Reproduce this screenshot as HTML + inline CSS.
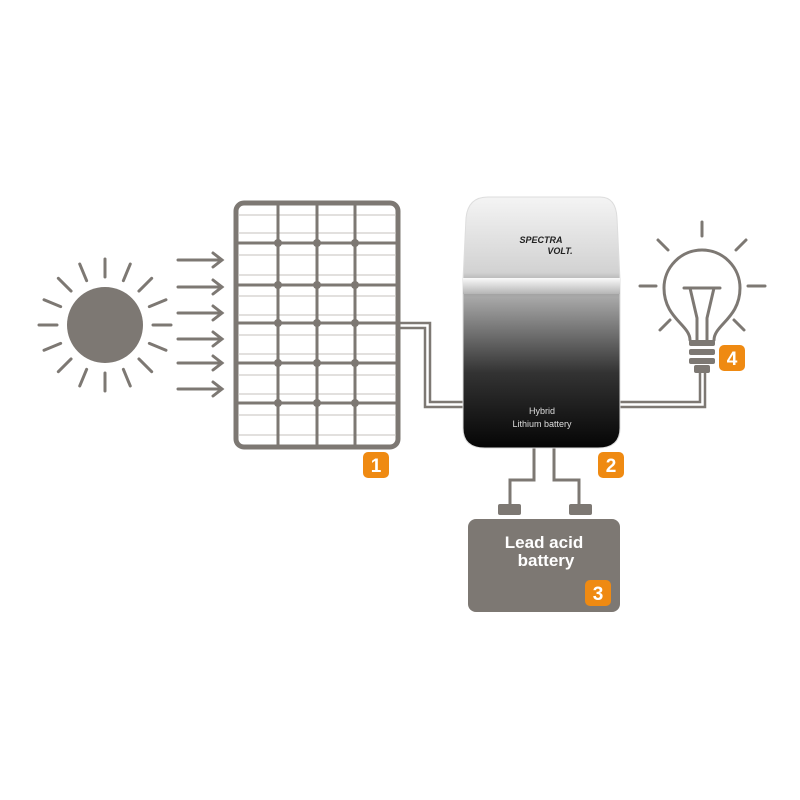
<!DOCTYPE html>
<html><head><style>
body{margin:0;background:#fff;}
svg{display:block}
</style></head><body>
<svg width="800" height="800" viewBox="0 0 800 800" xmlns="http://www.w3.org/2000/svg">
<defs>
<linearGradient id="bat" x1="0" y1="0" x2="0" y2="1">
<stop offset="0" stop-color="#f4f4f4"/>
<stop offset="0.3" stop-color="#d2d2d2"/>
<stop offset="0.36" stop-color="#9a9a9a"/>
<stop offset="0.4" stop-color="#a8a8a8"/>
<stop offset="0.7" stop-color="#333"/>
<stop offset="1" stop-color="#050505"/>
</linearGradient>
<linearGradient id="band" x1="0" y1="0" x2="0" y2="1">
<stop offset="0" stop-color="#fafafa"/><stop offset="1" stop-color="#b5b5b5"/>
</linearGradient>
</defs>
<g stroke="#7d7873" stroke-width="3" stroke-linecap="round" fill="none">
<g transform="translate(105,325)">
<line x1="48" y1="0" x2="66" y2="0"/><line x1="-48" y1="0" x2="-66" y2="0"/>
<line y1="48" x1="0" y2="66" x2="0"/><line y1="-48" x1="0" y2="-66" x2="0"/>
<g transform="rotate(22.5)"><line x1="48" y1="0" x2="66" y2="0"/><line x1="-48" y1="0" x2="-66" y2="0"/><line y1="48" x1="0" y2="66" x2="0"/><line y1="-48" x1="0" y2="-66" x2="0"/></g>
<g transform="rotate(45)"><line x1="48" y1="0" x2="66" y2="0"/><line x1="-48" y1="0" x2="-66" y2="0"/><line y1="48" x1="0" y2="66" x2="0"/><line y1="-48" x1="0" y2="-66" x2="0"/></g>
<g transform="rotate(67.5)"><line x1="48" y1="0" x2="66" y2="0"/><line x1="-48" y1="0" x2="-66" y2="0"/><line y1="48" x1="0" y2="66" x2="0"/><line y1="-48" x1="0" y2="-66" x2="0"/></g>
</g>
<g>
<path d="M178 260H222M213 253L222 260L213 267"/>
<path d="M178 287H222M213 280L222 287L213 294"/>
<path d="M178 313H222M213 306L222 313L213 320"/>
<path d="M178 339H222M213 332L222 339L213 346"/>
<path d="M178 363H222M213 356L222 363L213 370"/>
<path d="M178 389H222M213 382L222 389L213 396"/>
</g>
<path d="M400 323H430V402H465M400 328H425V407H465" stroke-width="2.5"/>
<path d="M620 402H700V372M620 407H705V372" stroke-width="2.5"/>
<path d="M534 448V480H510V505M554 448V480H579V505" stroke-width="3"/>
</g>
<circle cx="105" cy="325" r="38" fill="#7d7873"/>
<rect x="236" y="203" width="162" height="244" rx="8" fill="#fff" stroke="#7d7873" stroke-width="5"/>
<g stroke="#c4c0bc" stroke-width="1">
<line x1="238" y1="215" x2="396" y2="215"/><line x1="238" y1="233" x2="396" y2="233"/>
<line x1="238" y1="255" x2="396" y2="255"/><line x1="238" y1="275" x2="396" y2="275"/>
<line x1="238" y1="296" x2="396" y2="296"/><line x1="238" y1="315" x2="396" y2="315"/>
<line x1="238" y1="335" x2="396" y2="335"/><line x1="238" y1="354" x2="396" y2="354"/>
<line x1="238" y1="375" x2="396" y2="375"/><line x1="238" y1="394" x2="396" y2="394"/>
<line x1="238" y1="415" x2="396" y2="415"/><line x1="238" y1="435" x2="396" y2="435"/>
</g>
<g stroke="#7d7873" stroke-width="3">
<line x1="278" y1="203" x2="278" y2="447"/><line x1="317" y1="203" x2="317" y2="447"/><line x1="355" y1="203" x2="355" y2="447"/>
<line x1="236" y1="243" x2="398" y2="243"/><line x1="236" y1="285" x2="398" y2="285"/><line x1="236" y1="323" x2="398" y2="323"/><line x1="236" y1="363" x2="398" y2="363"/><line x1="236" y1="403" x2="398" y2="403"/>
</g>
<g fill="#7d7873">
<circle cx="278" cy="243" r="4"/><circle cx="317" cy="243" r="4"/><circle cx="355" cy="243" r="4"/>
<circle cx="278" cy="285" r="4"/><circle cx="317" cy="285" r="4"/><circle cx="355" cy="285" r="4"/>
<circle cx="278" cy="323" r="4"/><circle cx="317" cy="323" r="4"/><circle cx="355" cy="323" r="4"/>
<circle cx="278" cy="363" r="4"/><circle cx="317" cy="363" r="4"/><circle cx="355" cy="363" r="4"/>
<circle cx="278" cy="403" r="4"/><circle cx="317" cy="403" r="4"/><circle cx="355" cy="403" r="4"/>
</g>
<path d="M488 197H600Q616 197 617 218L620 280V428Q620 448 598 448H485Q463 448 463 428V280L466 218Q468 197 488 197Z" fill="url(#bat)" stroke="#ddd" stroke-width="1"/>
<rect x="463" y="278" width="157" height="16" fill="url(#band)"/>
<text x="541" y="243" font-family="Liberation Sans, sans-serif" font-size="9" font-weight="bold" fill="#222" text-anchor="middle" font-style="italic">SPECTRA</text>
<text x="560" y="254" font-family="Liberation Sans, sans-serif" font-size="9" font-weight="bold" fill="#222" text-anchor="middle" font-style="italic">VOLT.</text>
<text x="542" y="414" font-family="Liberation Sans, sans-serif" font-size="9" fill="#ddd" text-anchor="middle">Hybrid</text>
<text x="542" y="427" font-family="Liberation Sans, sans-serif" font-size="9" fill="#ddd" text-anchor="middle">Lithium battery</text>
<g stroke="#7d7873" stroke-width="3" fill="none" stroke-linecap="round">
<line x1="702" y1="222" x2="702" y2="236"/>
<line x1="658" y1="240" x2="668" y2="250"/><line x1="746" y1="240" x2="736" y2="250"/>
<line x1="640" y1="286" x2="656" y2="286"/><line x1="748" y1="286" x2="765" y2="286"/>
<line x1="660" y1="330" x2="670" y2="320"/><line x1="744" y1="330" x2="734" y2="320"/>
<path d="M690 340C690 325 664 318 664 288A38 38 0 1 1 740 288C740 318 714 325 714 340"/>
<path d="M684 288H720M690 288L697 318V340M714 288L707 318V340"/>
</g>
<g fill="#7d7873">
<rect x="689" y="340" width="26" height="6" rx="2"/><rect x="689" y="349" width="26" height="6" rx="2"/><rect x="689" y="358" width="26" height="6" rx="2"/><rect x="694" y="365" width="16" height="8" rx="2"/>
</g>
<rect x="498" y="504" width="23" height="11" rx="2" fill="#7d7873"/>
<rect x="569" y="504" width="23" height="11" rx="2" fill="#7d7873"/>
<rect x="468" y="519" width="152" height="93" rx="8" fill="#7d7873"/>
<text x="544" y="548" font-family="Liberation Sans, sans-serif" font-size="17" font-weight="bold" fill="#fff" text-anchor="middle">Lead acid</text>
<text x="546" y="566" font-family="Liberation Sans, sans-serif" font-size="17" font-weight="bold" fill="#fff" text-anchor="middle">battery</text>
<g font-family="Liberation Sans, sans-serif" font-size="19" font-weight="bold" fill="#fff" text-anchor="middle">
<rect x="363" y="452" width="26" height="26" rx="5" fill="#ef8a12"/><text x="376" y="472">1</text>
<rect x="598" y="452" width="26" height="26" rx="5" fill="#ef8a12"/><text x="611" y="472">2</text>
<rect x="585" y="580" width="26" height="26" rx="5" fill="#ef8a12"/><text x="598" y="600">3</text>
<rect x="719" y="345" width="26" height="26" rx="5" fill="#ef8a12"/><text x="732" y="365">4</text>
</g>
</svg>
</body></html>
